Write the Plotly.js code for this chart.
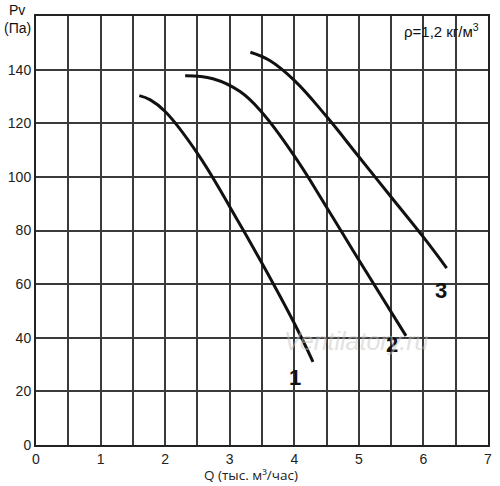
<!DOCTYPE html>
<html><head><meta charset="utf-8">
<script src="https://cdn.plot.ly/plotly-3.0.1.min.js"></script>
<style>html,body{margin:0;padding:0;background:#fff}#c{width:500px;height:486px}</style>
</head><body><div id="c"></div>
<script>
const q1 = [1.6, 1.77, 2.0, 2.5, 3.0, 3.5, 4.0, 4.29];
const p1 = [130.3, 128.7, 124.4, 108.8, 88.9, 67.8, 45.4, 31];
const q2 = [2.31, 2.74, 3.16, 3.5, 4.0, 4.5, 5.0, 5.73];
const p2 = [137.7, 136.6, 131.8, 124, 107.8, 88.7, 69, 40.7];
const q3 = [3.32, 3.62, 4.0, 4.5, 5.0, 5.5, 6.0, 6.36];
const p3 = [146.5, 143.4, 136, 122.5, 107.5, 92.5, 77.5, 66];
const curveNames = ['1', '2', '3'];
const labelPos = [[4.01, 25], [5.51, 37.3], [6.27, 57.5]];
const xTickVals = [0,0.5,1,1.5,2,2.5,3,3.5,4,4.5,5,5.5,6,6.5,7];
const xTickText = ['0','','1','','2','','3','','4','','5','','6','','7'];
const yTickVals = [0,20,40,60,80,100,120,140];
const yTickText = ['0','20','40','60','80','100','120','140'];

const FONT = 'Liberation Sans';
const line = {color:'#111', width:3, shape:'spline', smoothing:1.2};
const data = [[q1,p1],[q2,p2],[q3,p3]].map((d,i)=>({
  x:d[0], y:d[1], mode:'lines', type:'scatter', line:line, name:curveNames[i], hoverinfo:'skip'
}));

const ann = curveNames.map((n,i)=>({
  x:labelPos[i][0], y:labelPos[i][1], xref:'x', yref:'y', text:'<b>'+n+'</b>', showarrow:false,
  font:{family:FONT, size:22, color:'#111'}
}));
ann.push({x:4.96, y:38.8, xref:'x', yref:'y', text:'<i>Ventilatory.ru</i>', showarrow:false,
  font:{family:FONT, size:25, color:'rgba(195,195,195,0.5)'}});
ann.push({xref:'paper', yref:'paper', x:0.985, y:0.993, xanchor:'right', yanchor:'top',
  text:'ρ=1,2 кг/м<sup>3</sup>', showarrow:false,
  font:{family:FONT, size:15, color:'#111'}});
ann.push({xref:'paper', yref:'paper', x:-0.042, y:1.014, xanchor:'center', yanchor:'middle',
  text:'Pv', showarrow:false, font:{family:FONT, size:14, color:'#111'}});
ann.push({xref:'paper', yref:'paper', x:-0.042, y:0.972, xanchor:'center', yanchor:'middle',
  text:'(Па)', showarrow:false, font:{family:FONT, size:14, color:'#111'}});
ann.push({xref:'paper', yref:'paper', x:0.476, y:-0.069, xanchor:'center', yanchor:'middle',
  text:'Q (тыс. м³/час)', showarrow:false, font:{family:'Open Sans', size:13.5, color:'#222'}});

const layout = {
  width:500, height:486,
  margin:{l:36, r:12, t:16, b:41},
  paper_bgcolor:'#fff', plot_bgcolor:'#fff',
  showlegend:false,
  xaxis:{range:[0,7], tickvals:xTickVals, ticktext:xTickText, showgrid:true, gridcolor:'#3a3a3a', gridwidth:2,
    zeroline:false, showline:true, linecolor:'#222', linewidth:2, mirror:true, ticks:'', ticklen:0,
    tickfont:{family:FONT, size:14, color:'#222'}},
  yaxis:{range:[0,160], tickvals:yTickVals, ticktext:yTickText, showgrid:true, gridcolor:'#3a3a3a', gridwidth:2,
    zeroline:false, showline:true, linecolor:'#222', linewidth:2, mirror:true, ticks:'',
    tickfont:{family:FONT, size:14, color:'#222'}},
  annotations:ann
};
Plotly.newPlot('c', data, layout, {staticPlot:true, displayModeBar:false});
</script></body></html>
